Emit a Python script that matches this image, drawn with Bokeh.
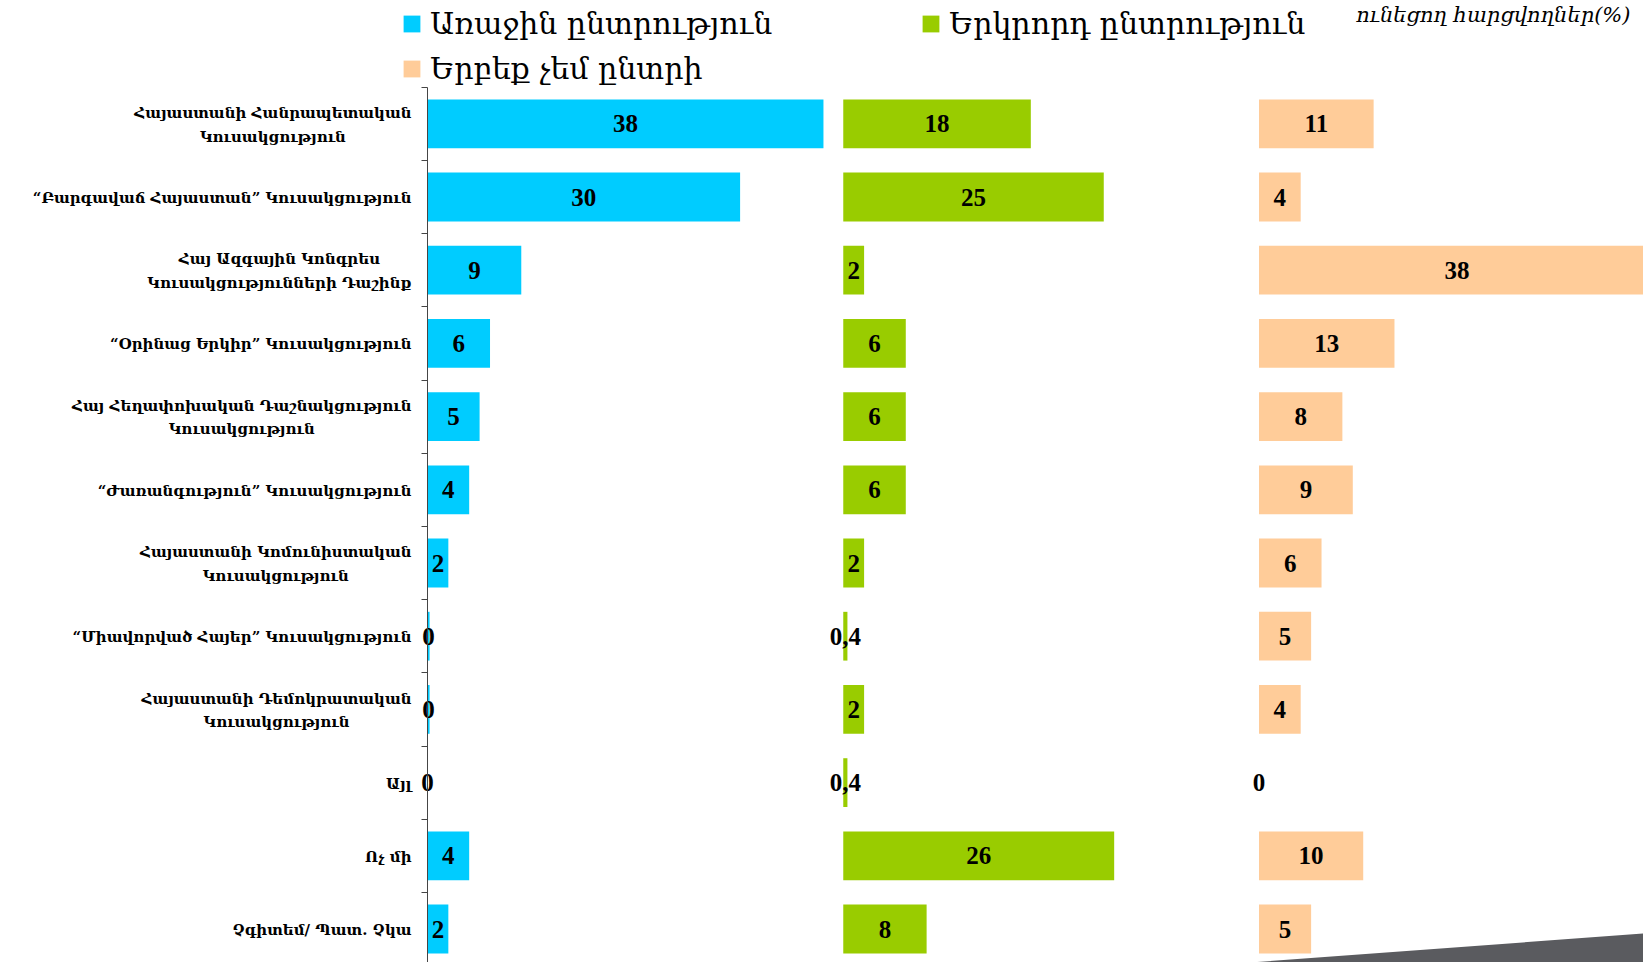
from bokeh.plotting import figure
from bokeh.models import (Range1d, FixedTicker, ColumnDataSource, Legend, LegendItem,
                          Label, PolyAnnotation)
from bokeh.core.properties import value
from bokeh.embed import file_html
from bokeh.resources import INLINE

# ---------------- data ----------------
categories = [
    "Հայաստանի Հանրապետական\nԿուսակցություն",
    "“Բարգավաճ Հայաստան” Կուսակցություն",
    "Հայ Ազգային Կոնգրես\nԿուսակցությունների Դաշինք",
    "“Օրինաց Երկիր” Կուսակցություն",
    "Հայ Հեղափոխական Դաշնակցություն\nԿուսակցություն",
    "“Ժառանգություն” Կուսակցություն",
    "Հայաստանի Կոմունիստական\nԿուսակցություն",
    "“Միավորված Հայեր” Կուսակցություն",
    "Հայաստանի Դեմոկրատական\nԿուսակցություն",
    "Այլ",
    "Ոչ մի",
    "Չգիտեմ/ Պատ. Չկա",
]
first_choice = [38, 30, 9, 6, 5, 4, 2, 0.2, 0.2, 0, 4, 2]
second_choice = [18, 25, 2, 6, 6, 6, 2, 0.4, 2, 0.4, 26, 8]
never_choose = [11, 4, 38, 13, 8, 9, 6, 5, 4, 0, 10, 5]
series_names = ["Առաջին ընտրություն", "Երկրորդ ընտրություն", "Երբեք չեմ ընտրի"]
series_colors = ["#00CCFF", "#99CC00", "#FFCC99"]
note_text = "ունեցող հարցվողներ(%)"

# ---------------- layout ----------------
W, H = 1643, 962
AXIS_PX = 427          # frame left -> baseline of first panel
TOP_PX = 86.7          # frame top -> first category boundary
PX_PER_UNIT = 10.42
ROW_PX = 73.2
PANEL_STEP = 39.9
n = len(categories)
rows = list(range(n))

x0 = -AXIS_PX / PX_PER_UNIT
x1 = x0 + W / PX_PER_UNIT
y_top = -0.5 - TOP_PX / ROW_PX
y_bot = -0.5 + (H - TOP_PX) / ROW_PX

def px_x(px):  # canvas px -> first-panel data x
    return x0 + px / PX_PER_UNIT

def px_y(py):  # canvas px -> data y
    return y_top + py / ROW_PX

p = figure(width=W, height=H, output_backend="svg", toolbar_location=None,
           x_range=Range1d(x0, x1), y_range=Range1d(y_bot, y_top),
           x_axis_location=None,
           min_border_left=0, min_border_top=0, min_border_right=0, min_border_bottom=0)
p.extra_x_ranges = {
    "second": Range1d(x0 - PANEL_STEP, x1 - PANEL_STEP),
    "never": Range1d(x0 - 2 * PANEL_STEP, x1 - 2 * PANEL_STEP),
}
p.outline_line_color = None
p.grid.visible = False
p.background_fill_color = "white"
p.border_fill_color = "white"

def fmt_int(v):
    return "%.0f" % v

def fmt_general(v):
    return ("%g" % v).replace(".", ",")

series = [
    (first_choice, "default", fmt_int),
    (second_choice, "second", fmt_general),
    (never_choose, "never", fmt_int),
]

renderers = []
for (vals, rname, fmt), color in zip(series, series_colors):
    src = ColumnDataSource(dict(
        y=rows, right=vals, mid=[v / 2 for v in vals], lab=[fmt(v) for v in vals]))
    r = p.hbar(y="y", left=0, right="right", height=0.666, source=src,
               fill_color=color, line_color=None, x_range_name=rname)
    renderers.append(r)
    p.text(x="mid", y="y", text="lab", source=src, x_range_name=rname,
           text_align="center", text_baseline="middle",
           text_font=value("Liberation Serif"), text_font_style="bold",
           text_font_size="25px", text_color="black")

# category labels, right-anchored left of the axis, lines centred
cat_src = ColumnDataSource(dict(y=rows, name=categories, zero=[0] * n))
p.text(x="zero", y="y", text="name", source=cat_src, x_offset=-16, y_offset=1,
       anchor=value("center_right"), text_align="center", text_baseline="middle",
       text_font=value("DejaVu Serif"), text_font_style="bold",
       text_font_size="15px", text_line_height=1.32, text_color="black")

# y axis at the baseline: tick marks at category boundaries, no tick labels
ax = p.yaxis[0]
ax.fixed_location = 0
ax.bounds = (-0.5, n - 0.5)
ax.ticker = FixedTicker(ticks=[], minor_ticks=[i - 0.5 for i in range(n + 1)])
ax.major_tick_out = 0
ax.major_tick_in = 0
ax.minor_tick_out = 6
ax.minor_tick_in = 0
ax.major_label_text_font_size = "0px"
ax.axis_line_color = "#454545"
ax.minor_tick_line_color = "#454545"

# legends (one per item), location in px from frame bottom-left
legend_pos = [(401, H - 41), (920, H - 41), (401, H - 86)]
for r, name, pos in zip(renderers, series_names, legend_pos):
    lg = Legend(items=[LegendItem(label=name, renderers=[r])], location=pos,
                orientation="vertical", padding=0, margin=0, spacing=0,
                glyph_width=21, glyph_height=21, label_standoff=8, label_height=21,
                border_line_color=None, background_fill_alpha=0,
                label_text_font="DejaVu Serif", label_text_font_size="30px",
                label_text_color="black")
    p.add_layout(lg, "center")

note = Label(x=px_x(1630), y=px_y(14), text=note_text,
             text_align="right", text_baseline="middle",
             text_font="DejaVu Serif", text_font_style="italic",
             text_font_size="21px", text_color="black")
p.add_layout(note)

wedge = PolyAnnotation(
    xs=[px_x(1250), px_x(1643), px_x(1643)],
    ys=[px_y(962), px_y(933), px_y(962)],
    fill_color="#5a5b5f", fill_alpha=1, line_color=None)
p.add_layout(wedge)

open("out.html", "w").write(file_html(p, INLINE))
